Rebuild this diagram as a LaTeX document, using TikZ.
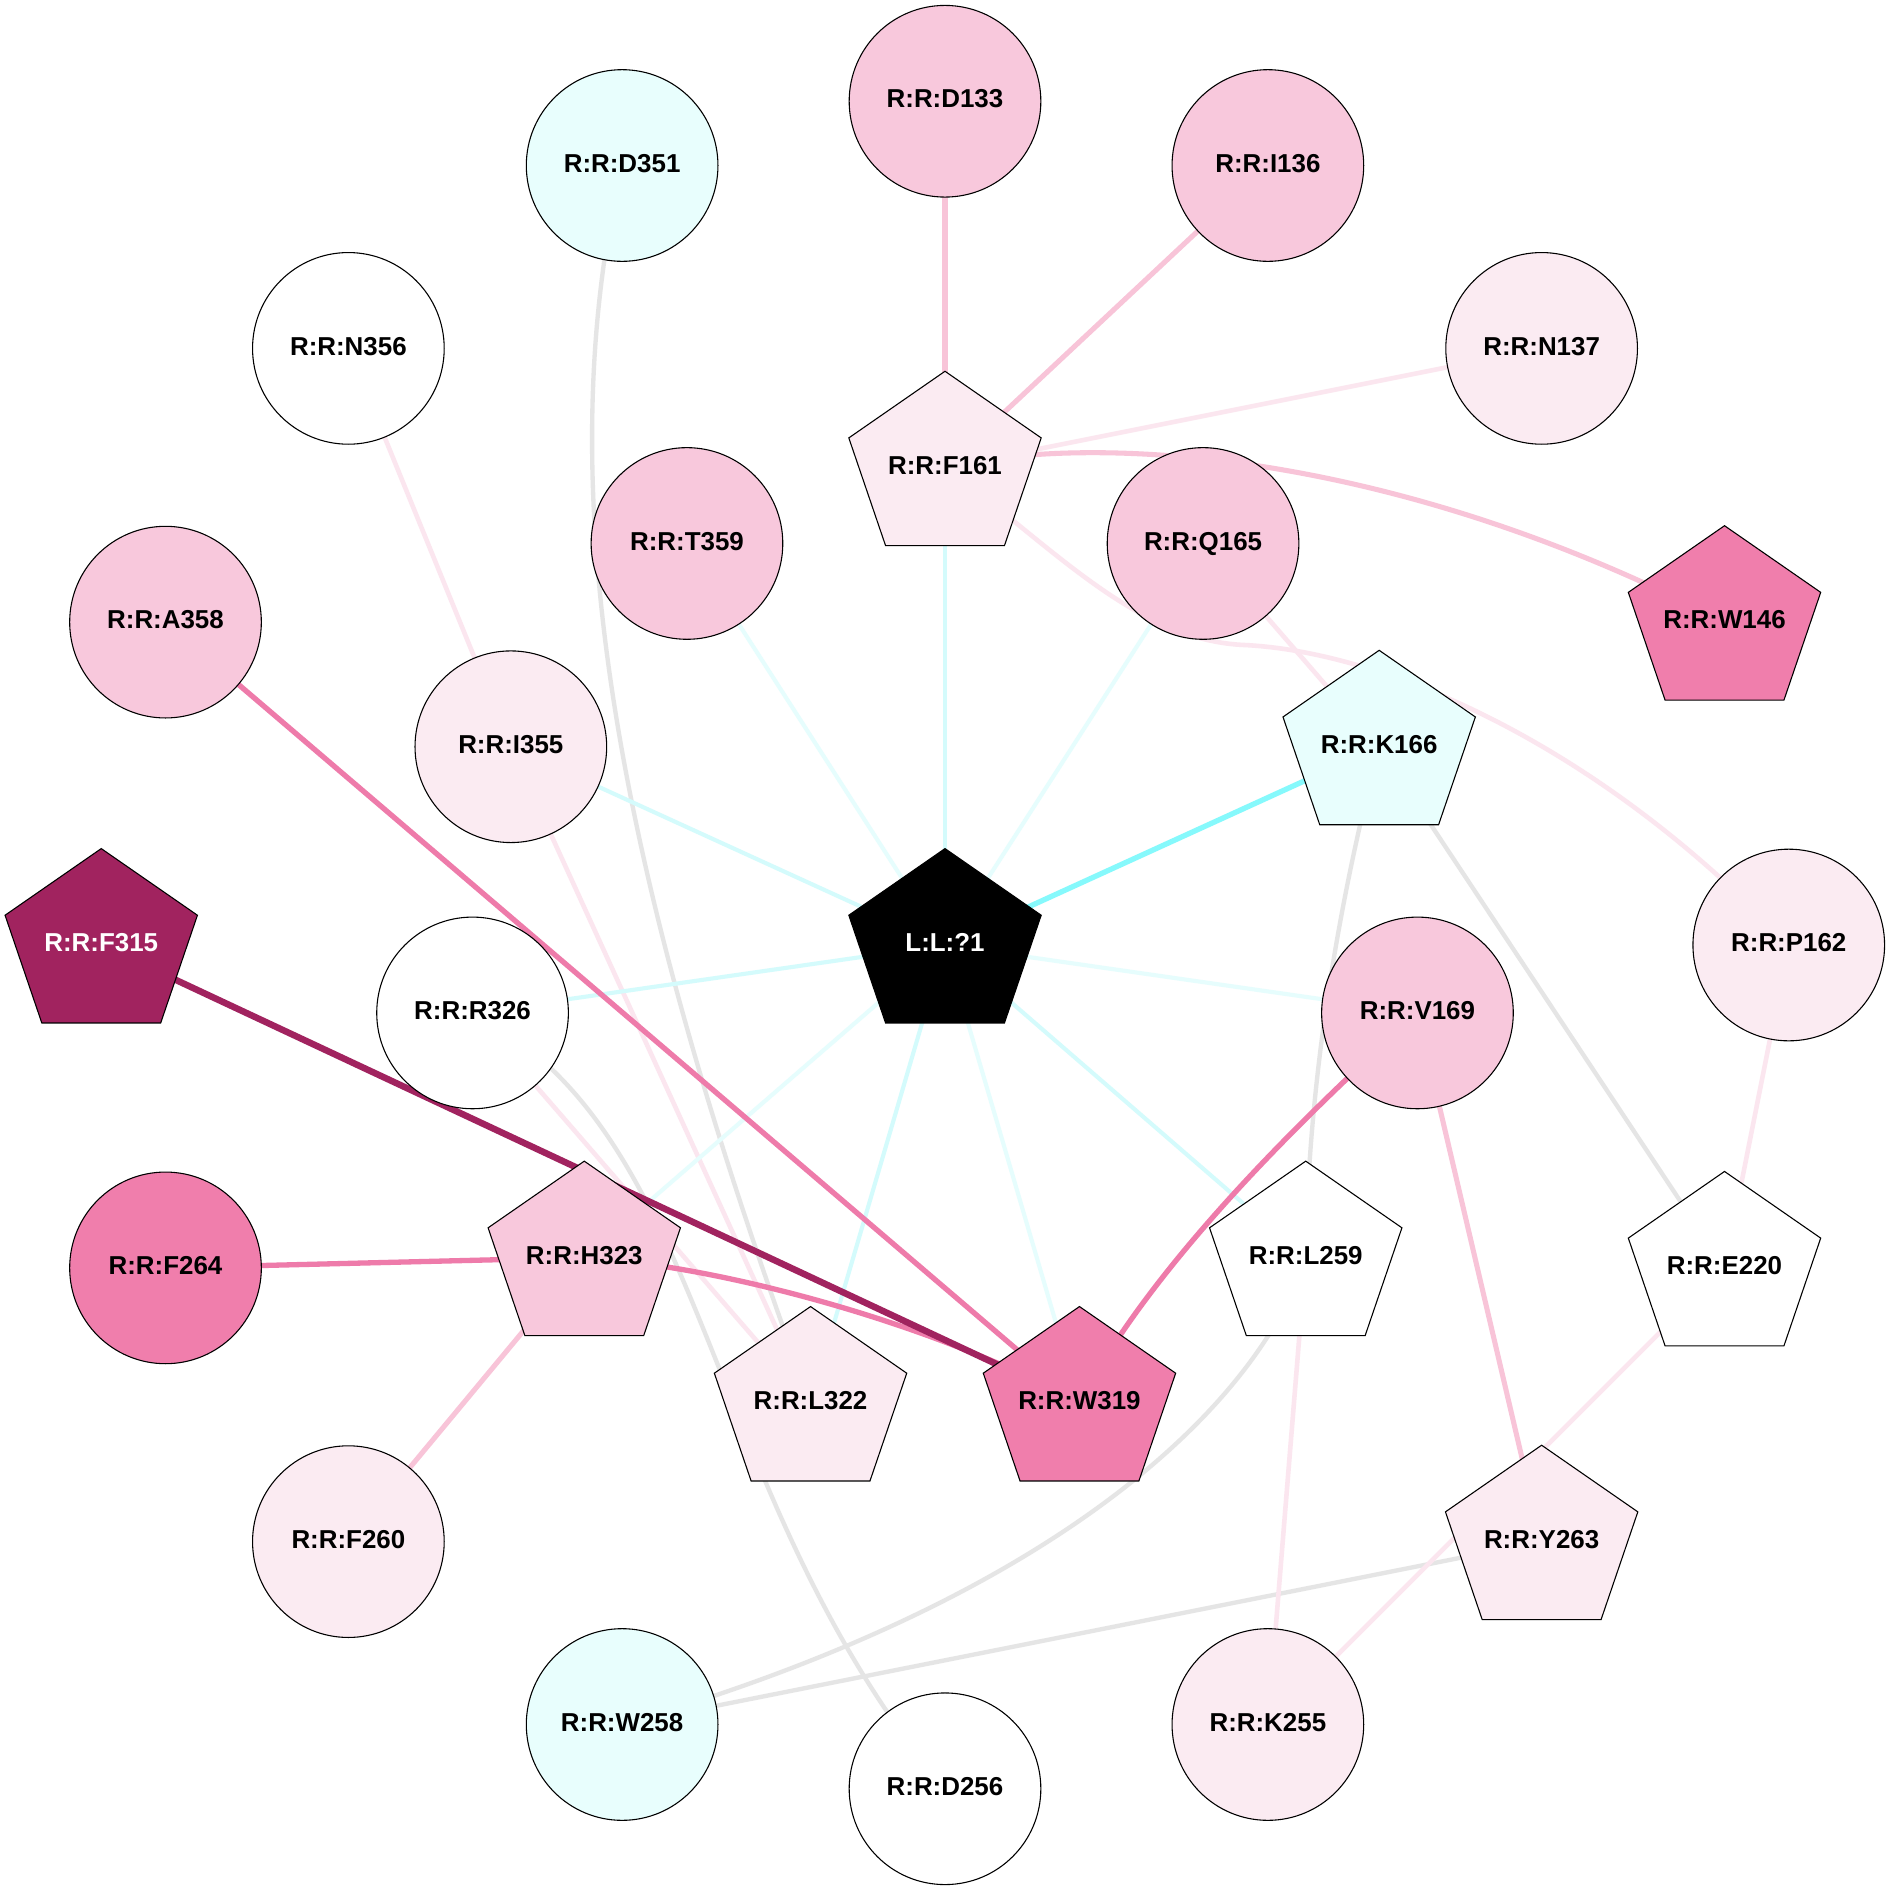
\documentclass[tikz,border=0pt]{standalone}
\usepackage{fontspec}
\setmainfont{Liberation Sans}
\pgfdeclarelayer{bg}
\pgfsetlayers{bg,main}
\makeatletter
\newdimen\gvcx \newdimen\gvcy
\pgfdeclareshape{gvpent}{%
  \inheritsavedanchors[from=rectangle]%
  \inheritanchorborder[from=rectangle]%
  \inheritanchor[from=rectangle]{center}%
  \inheritanchor[from=rectangle]{north}%
  \inheritanchor[from=rectangle]{south}%
  \inheritanchor[from=rectangle]{east}%
  \inheritanchor[from=rectangle]{west}%
  \backgroundpath{%
    \pgfpointlineattime{0.5}{\southwest}{\northeast}%
    \gvcx=\pgf@x \gvcy=\pgf@y
    \pgfpathmoveto{\pgfpointadd{\pgfpoint{\gvcx}{\gvcy}}{\pgfpoint{0pt}{80pt}}}%
    \pgfpathlineto{\pgfpointadd{\pgfpoint{\gvcx}{\gvcy}}{\pgfpoint{79.8pt}{24.7pt}}}%
    \pgfpathlineto{\pgfpointadd{\pgfpoint{\gvcx}{\gvcy}}{\pgfpoint{49.3pt}{-64.7pt}}}%
    \pgfpathlineto{\pgfpointadd{\pgfpoint{\gvcx}{\gvcy}}{\pgfpoint{-49.3pt}{-64.7pt}}}%
    \pgfpathlineto{\pgfpointadd{\pgfpoint{\gvcx}{\gvcy}}{\pgfpoint{-79.8pt}{24.7pt}}}%
    \pgfpathclose
  }%
}
\makeatother
\definecolor{pkL}{HTML}{FBEBF2}
\definecolor{pkM}{HTML}{F8C8DC}
\definecolor{pkH}{HTML}{F07EAC}
\definecolor{pkD}{HTML}{A1235F}
\definecolor{cyL}{HTML}{E8FEFD}
\definecolor{ecyA}{HTML}{D4FBFC}
\definecolor{ecyB}{HTML}{E6FDFD}
\definecolor{ecyC}{HTML}{86F9FC}
\definecolor{epkL}{HTML}{FBE6EF}
\definecolor{epkM}{HTML}{F8C4D8}
\definecolor{epkH}{HTML}{EE7BAA}
\definecolor{epkD}{HTML}{A1235F}
\definecolor{egr}{HTML}{E5E5E5}
\tikzset{
  base/.style={font=\fontsize{21.5}{25}\selectfont\bfseries, inner sep=0pt, outer sep=0pt, text depth=4pt, draw=black, line width=0.9pt, text=black},
  circ/.style={base, circle, minimum size=159pt},
  pent/.style={base, shape=gvpent, minimum width=160pt, minimum height=160pt},
  ecA/.style={draw=ecyA, line width=3.4pt},
  ecB/.style={draw=ecyB, line width=3.4pt},
  ecC/.style={draw=ecyC, line width=4.4pt},
  egray/.style={draw=egr, line width=3.6pt},
  epL/.style={draw=epkL, line width=3.8pt},
  epM/.style={draw=epkM, line width=4.2pt},
  epH/.style={draw=epkH, line width=4.4pt},
  epD/.style={draw=epkD, line width=5.4pt}
}
\begin{document}
\begin{tikzpicture}[x=1pt,y=-1pt]
\useasboundingbox (0,0) rectangle (1568,1568);
% outer ring (radius 700)
\node[circ, fill=pkM] (D133) at ({784+700*sin(0)},{784-700*cos(0)}) {R:R:D133};
\node[circ, fill=pkM] (I136) at ({784+700*sin(22.5)},{784-700*cos(22.5)}) {R:R:I136};
\node[circ, fill=pkL] (N137) at ({784+700*sin(45)},{784-700*cos(45)}) {R:R:N137};
\node[pent, fill=pkH] (W146) at ({784+700*sin(67.5)},{784-700*cos(67.5)}) {R:R:W146};
\node[circ, fill=pkL] (P162) at ({784+700*sin(90)},{784-700*cos(90)}) {R:R:P162};
\node[pent, fill=white] (E220) at ({784+700*sin(112.5)},{784-700*cos(112.5)}) {R:R:E220};
\node[pent, fill=pkL] (Y263) at ({784+700*sin(135)},{784-700*cos(135)}) {R:R:Y263};
\node[circ, fill=pkL] (K255) at ({784+700*sin(157.5)},{784-700*cos(157.5)}) {R:R:K255};
\node[circ, fill=white] (D256) at ({784+700*sin(180)},{784-700*cos(180)}) {R:R:D256};
\node[circ, fill=cyL] (W258) at ({784+700*sin(202.5)},{784-700*cos(202.5)}) {R:R:W258};
\node[circ, fill=pkL] (F260) at ({784+700*sin(225)},{784-700*cos(225)}) {R:R:F260};
\node[circ, fill=pkH] (F264) at ({784+700*sin(247.5)},{784-700*cos(247.5)}) {R:R:F264};
\node[pent, fill=pkD, text=white] (F315) at ({784+700*sin(270)},{784-700*cos(270)}) {R:R:F315};
\node[circ, fill=pkM] (A358) at ({784+700*sin(292.5)},{784-700*cos(292.5)}) {R:R:A358};
\node[circ, fill=white] (N356) at ({784+700*sin(315)},{784-700*cos(315)}) {R:R:N356};
\node[circ, fill=cyL] (D351) at ({784+700*sin(337.5)},{784-700*cos(337.5)}) {R:R:D351};
% inner ring (radius 396)
\node[pent, fill=pkL] (F161) at ({784+396*sin(0)},{784-396*cos(0)}) {R:R:F161};
\node[circ, fill=pkM] (Q165) at ({784+396*sin(32.727)},{784-396*cos(32.727)}) {R:R:Q165};
\node[pent, fill=cyL] (K166) at ({784+396*sin(65.455)},{784-396*cos(65.455)}) {R:R:K166};
\node[circ, fill=pkM] (V169) at ({784+396*sin(98.182)},{784-396*cos(98.182)}) {R:R:V169};
\node[pent, fill=white] (L259) at ({784+396*sin(130.909)},{784-396*cos(130.909)}) {R:R:L259};
\node[pent, fill=pkH] (W319) at ({784+396*sin(163.636)},{784-396*cos(163.636)}) {R:R:W319};
\node[pent, fill=pkL] (L322) at ({784+396*sin(196.364)},{784-396*cos(196.364)}) {R:R:L322};
\node[pent, fill=pkM] (H323) at ({784+396*sin(229.091)},{784-396*cos(229.091)}) {R:R:H323};
\node[circ, fill=white] (R326) at ({784+396*sin(261.818)},{784-396*cos(261.818)}) {R:R:R326};
\node[circ, fill=pkL] (I355) at ({784+396*sin(294.545)},{784-396*cos(294.545)}) {R:R:I355};
\node[circ, fill=pkM] (T359) at ({784+396*sin(327.273)},{784-396*cos(327.273)}) {R:R:T359};
% centre
\node[pent, fill=black, text=white] (L1) at (784,784) {L:L:?1};
\begin{pgfonlayer}{bg}
\fill[white] (0,0) rectangle (1568,1568);
% gray
\draw[egray] (D351.center) .. controls (450,420) and (520,750) .. (L322.center);
\draw[egray] (R326.center) .. controls (590,940) and (580,1240) .. (D256.center);
\draw[egray] (K166.center) .. controls (1110,750) and (1085,900) .. (L259.center);
\draw[egray] (K166.center) -- (E220.center);
\draw[egray] (L259.center) .. controls (1050,1150) and (900,1320) .. (W258.center);
\draw[egray] (Y263.center) -- (W258.center);
% light pink
\draw[epL] (N137.center) -- (F161.center);
\draw[epL] (F161.center) .. controls (870,450) and (940,530) .. (1030,535) .. controls (1150,540) and (1330,620) .. (P162.center);
\draw[epL] (N356.center) -- (I355.center);
\draw[epL] (Q165.center) -- (K166.center);
\draw[epL] (I355.center) -- (L322.center);
\draw[epL] (R326.center) -- (L322.center);
\draw[epL] (P162.center) -- (E220.center);
\draw[epL] (L259.center) -- (K255.center);
\draw[epL] (E220.center) -- (K255.center);
% medium pink
\draw[epM] (D133.center) -- (F161.center);
\draw[epM] (I136.center) -- (F161.center);
\draw[epM] (F161.center) .. controls (900,360) and (1150,370) .. (W146.center);
\draw[epM] (V169.center) -- (Y263.center);
\draw[epM] (H323.center) -- (F260.center);
% cyan
\draw[ecA] (L1.center) -- (F161.center);
\draw[ecA] (L1.center) -- (I355.center);
\draw[ecA] (L1.center) -- (R326.center);
\draw[ecA] (L1.center) -- (L322.center);
\draw[ecA] (L1.center) -- (L259.center);
\draw[ecB] (L1.center) -- (T359.center);
\draw[ecB] (L1.center) -- (Q165.center);
\draw[ecB] (L1.center) -- (V169.center);
\draw[ecB] (L1.center) -- (H323.center);
\draw[ecB] (L1.center) -- (W319.center);
\draw[ecC] (L1.center) -- (K166.center);
% hot pink
\draw[epH] (A358.center) -- (W319.center);
\draw[epH] (V169.center) .. controls (1100,910) and (960,1040) .. (W319.center);
\draw[epH] (F264.center) -- (H323.center);
\draw[epH] (H323.center) .. controls (600,1050) and (780,1100) .. (W319.center);
% dark
\draw[epD] (F315.center) -- (W319.center);
\end{pgfonlayer}
\end{tikzpicture}
\end{document}
